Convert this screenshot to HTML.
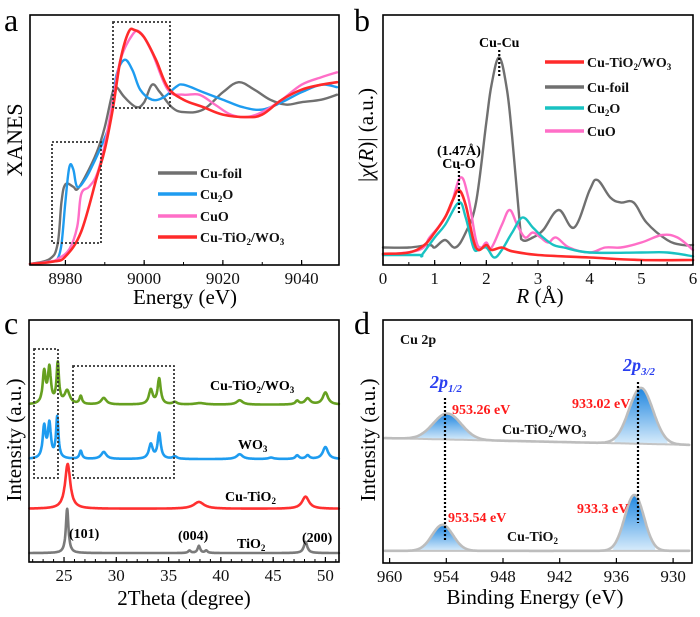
<!DOCTYPE html>
<html><head><meta charset="utf-8"><style>
html,body{margin:0;padding:0;background:#fff;}
svg{display:block;font-family:"Liberation Serif",serif;}
</style></head><body>
<svg id="fig" width="700" height="617" viewBox="0 0 700 617" xmlns="http://www.w3.org/2000/svg">
<defs>
<linearGradient id="blueg" x1="0" y1="0" x2="0" y2="1">
<stop offset="0" stop-color="#1f86e0"/><stop offset="1" stop-color="#d8ecfb"/>
</linearGradient>
</defs>
</svg>
<script>
// ---------- Panel a data (XANES) ----------
const aFoilX=[8971,8976,8978,8979,8980,8982,8983,8985,8988,8990,8992,8993,8995,8998,9000,9002,9004,9007,9010,9015,9020,9024,9028,9032,9036,9040,9045,9049];
const aFoilY=[0,0.02,0.08,0.25,0.32,0.31,0.30,0.35,0.45,0.55,0.69,0.71,0.67,0.63,0.65,0.72,0.69,0.63,0.61,0.62,0.69,0.73,0.70,0.66,0.64,0.65,0.66,0.68];
const aCu2OX=[8971,8977,8978,8979,8980,8981,8982,8983,8985,8987,8989,8991,8992,8993,8995,8997,8999,9002,9005,9008,9010,9015,9020,9025,9030,9035,9040,9045,9049];
const aCu2OY=[0,0.01,0.02,0.08,0.25,0.39,0.38,0.31,0.34,0.40,0.47,0.55,0.64,0.76,0.82,0.78,0.70,0.66,0.67,0.71,0.72,0.69,0.66,0.63,0.62,0.65,0.69,0.72,0.71];
const aCuOX=[8971,8976,8978,8981,8983,8984,8986,8988,8990,8992,8994,8997,8999,9002,9006,9010,9014,9018,9022,9026,9030,9035,9040,9045,9049];
const aCuOY=[0,0.01,0.02,0.06,0.15,0.28,0.31,0.36,0.48,0.65,0.82,0.92,0.93,0.85,0.70,0.68,0.68,0.64,0.60,0.59,0.61,0.66,0.72,0.75,0.77];
const aCatX=[8971,8977,8980,8984,8988,8990,8992,8994,8996,8997.5,9000,9003,9006,9010,9015,9020,9026,9030,9035,9040,9045,9049];
const aCatY=[0,0.01,0.03,0.13,0.35,0.46,0.62,0.82,0.93,0.94,0.91,0.82,0.71,0.66,0.63,0.60,0.59,0.60,0.66,0.70,0.72,0.73];
const aTicks=[8980,9000,9020,9040];

// ---------- Panel b data (EXAFS) ----------
const bFoilX=[0,0.5,0.9,1.0,1.2,1.4,1.6,1.8,2.0,2.1,2.25,2.4,2.5,2.65,2.7,2.9,3.1,3.4,3.7,4.0,4.15,4.4,4.6,4.85,5.1,5.5,5.8,6.0];
const bFoilY=[0.07,0.07,0.08,0.07,0.10,0.07,0.13,0.25,0.57,0.72,0.83,0.70,0.51,0.16,0.10,0.11,0.14,0.22,0.15,0.30,0.34,0.27,0.25,0.25,0.17,0.10,0.08,0.08];
const bCatX=[0,0.5,0.8,1.0,1.2,1.35,1.47,1.6,1.75,1.85,2.0,2.1,2.3,2.5,3.0,4.0,5.0,6.0];
const bCatY=[0.045,0.05,0.08,0.13,0.19,0.26,0.30,0.24,0.10,0.06,0.08,0.06,0.07,0.055,0.04,0.03,0.02,0.02];
const bCu2OX=[0,0.7,0.75,1.0,1.2,1.47,1.6,1.75,1.85,2.0,2.15,2.3,2.5,2.7,2.9,3.1,3.3,3.5,4.0,5.0,5.5,6.0];
const bCu2OY=[0.04,0.04,0.04,0.11,0.16,0.25,0.19,0.07,0.06,0.07,0.03,0.06,0.13,0.19,0.15,0.11,0.08,0.07,0.05,0.05,0.05,0.035];
const bCuOX=[0,0.7,0.9,1.1,1.3,1.5,1.65,1.8,1.9,2.0,2.1,2.3,2.45,2.6,2.75,2.9,3.05,3.2,3.35,3.6,4.0,4.3,4.6,5.0,5.4,5.7,6.0];
const bCuOY=[0.04,0.06,0.11,0.16,0.23,0.35,0.27,0.10,0.07,0.09,0.07,0.16,0.22,0.16,0.11,0.13,0.11,0.09,0.11,0.07,0.05,0.07,0.07,0.09,0.12,0.11,0.06];
const bTicks=[0,1,2,3,4,5,6];

// ---------- Panel c data (XRD): baseline, peak positions, heights, widths ----------
const cTiO2Base=3.7;
const cTiO2Pos=[25.3,37.0,37.9,38.6,48.1];
const cTiO2H=[18.3,1.0,2.9,1.0,4.6];
const cTiO2W=[0.15,0.15,0.15,0.15,0.2];
const cCuTiBase=22;
const cCuTiPos=[25.35,37.9,48.1];
const cCuTiH=[18.5,2.8,5];
const cCuTiW=[0.3,0.6,0.4];
const cWO3Base=42.5;
const cWO3Pos=[23.1,23.6,24.35,26.6,28.8,33.3,34.1,35.6,41.8,44.8,47.3,48.3,50.0];
const cWO3H=[13,14,17,3.3,2.9,6,10.5,1.0,2.0,0.6,1.5,1.5,5];
const cWO3W=[0.17,0.17,0.14,0.15,0.3,0.22,0.18,0.25,0.35,0.3,0.2,0.2,0.3];
const cCatBase=65;
const cCatPos=[23.1,23.6,24.4,25.3,26.6,28.8,33.3,34.1,35.6,38.0,41.8,47.3,48.3,50.0];
const cCatH=[13,14.5,16.5,5.5,3.3,2.7,6,10.5,1.0,0.6,1.8,1.5,2.5,5];
const cCatW=[0.17,0.17,0.14,0.3,0.15,0.3,0.22,0.18,0.25,0.6,0.35,0.2,0.3,0.3];
const cTicks=[25,30,35,40,45,50];

// ---------- Panel d data (XPS) ----------
const dTopBase=[51.4,48.6];
const dTopPos=[953.9,933.4];
const dTopH=[10.7,23];
const dTopFwhm=[3.5,3.0];
const dBotBase=[5,5];
const dBotPos=[954.4,934.1];
const dBotH=[10.7,23];
const dBotFwhm=[2.6,2.4];
const dTicks=[960,954,948,942,936,930];

const NS="http://www.w3.org/2000/svg";
const fig=document.getElementById('fig');
function mk(tag,attrs,parent){const e=document.createElementNS(NS,tag);for(const k in attrs)e.setAttribute(k,attrs[k]);(parent||fig).appendChild(e);return e;}
function txt(x,y,s,attrs,parent){const e=mk('text',Object.assign({x:x,y:y},attrs||{}),parent);e.innerHTML=s;return e;}
function lin(x0,x1,p0,p1){return v=>p0+(v-x0)/(x1-x0)*(p1-p0);}
function pathD(xs,ys,sx,sy){return xs.map((v,i)=>(i?'L':'M')+sx(v).toFixed(1)+' '+sy(ys[i]).toFixed(1)).join(' ');}
function smoothD(xs,ys,sx,sy){
  const P=xs.map((v,i)=>[sx(v),sy(ys[i])]);
  let d='M'+P[0][0].toFixed(1)+' '+P[0][1].toFixed(1);
  for(let i=0;i<P.length-1;i++){
    const p0=P[i-1]||P[i],p1=P[i],p2=P[i+1],p3=P[i+2]||p2;
    const t=0.18;
    const c1=[p1[0]+(p2[0]-p0[0])*t,p1[1]+(p2[1]-p0[1])*t];
    const c2=[p2[0]-(p3[0]-p1[0])*t,p2[1]-(p3[1]-p1[1])*t];
    d+=' C'+c1[0].toFixed(1)+' '+c1[1].toFixed(1)+' '+c2[0].toFixed(1)+' '+c2[1].toFixed(1)+' '+p2[0].toFixed(1)+' '+p2[1].toFixed(1);
  }
  return d;
}

function frame(L,T,R,B,name){
  const r=mk('rect',{x:L,y:T,width:R-L,height:B-T,fill:'none',stroke:'#000','stroke-width':1.6});
  
  
}
function xticks(vals,sx,B,minorStep,lo,hi,name){
  const g=mk('g',{});
  
  
  for(let v=lo;v<=hi+1e-9;v+=minorStep){mk('line',{x1:sx(v),x2:sx(v),y1:B,y2:B-3,stroke:'#000','stroke-width':1},g);}
  vals.forEach(v=>{mk('line',{x1:sx(v),x2:sx(v),y1:B,y2:B-5,stroke:'#000','stroke-width':1.2},g);
    const t=txt(sx(v),B+19,String(v),{'font-size':17,'text-anchor':'middle',fill:'#111'},g);
    
    });
}
function line(xs,ys,sx,sy,color,w,name,smooth){
  const p=mk('path',{d:smooth?smoothD(xs,ys,sx,sy):pathD(xs,ys,sx,sy),fill:'none',stroke:color,'stroke-width':w,'stroke-linejoin':'round','stroke-linecap':'round'});
  
  
  return p;
}
function dotbox(x,y,w,h,name){
  const r=mk('rect',{x:x,y:y,width:w,height:h,fill:'none',stroke:'#333','stroke-width':1.8,'stroke-dasharray':'2 2'});
  
  
}
function vdot(x,y0,y1,name){
  const l=mk('line',{x1:x,x2:x,y1:y0,y2:y1,stroke:'#000','stroke-width':2.2,'stroke-dasharray':'2 2'});
  
  
}
function label(x,y,s,attrs,name){
  const t=txt(x,y,s,attrs);
  
  
  return t;
}
function legend(x,y,color,s,name){
  const g=mk('g',{});
  
  
  mk('line',{x1:x,x2:x+39,y1:y,y2:y,stroke:color,'stroke-width':3.5},g);
  txt(x+42,y+5,s,{'font-size':14,'font-weight':'bold',fill:'#111'},g);
}

// ===== Panel a =====
(function(){
  const L=30,T=15,R=339,B=265;
  const sx=lin(8971,9049.5,L,R), sy=lin(0,1,B-1,B-250);
  line(aFoilX,aFoilY,sx,sy,'#707070',2.4,'cu-foil-xanes-line',true);
  line(aCu2OX,aCu2OY,sx,sy,'#1e9cf0',2.4,'cu2o-xanes-line',true);
  line(aCuOX,aCuOY,sx,sy,'#ff6ec7',2.4,'cuo-xanes-line',true);
  line(aCatX,aCatY,sx,sy,'#ff2a2a',2.6,'cu-tio2-wo3-xanes-line',true);
  dotbox(52,142,49,101,'pre-edge-highlight-box');
  dotbox(113,22,57,86,'white-line-highlight-box');
  frame(L,T,R,B,'panel-a');
  xticks(aTicks,sx,B,10,8980,9040,'panel-a');
  label(185,304,'Energy (eV)',{'font-size':21,'text-anchor':'middle'},'panel-a-x-title');
  label(0,0,'XANES',{'font-size':22,'text-anchor':'middle',transform:'translate(22,140) rotate(-90)'},'panel-a-y-title');
  label(4,31,'a',{'font-size':32},'panel-a-letter');
  legend(158,173,'#707070','Cu-foil','legend-cu-foil');
  legend(158,194,'#1e9cf0','Cu<tspan font-size="9" dy="3">2</tspan><tspan dy="-3">O</tspan>','legend-cu2o');
  legend(158,216,'#ff6ec7','CuO','legend-cuo');
  legend(158,237,'#ff2a2a','Cu-TiO<tspan font-size="9" dy="3">2</tspan><tspan dy="-3">/WO</tspan><tspan font-size="9" dy="3">3</tspan>','legend-cu-tio2-wo3');
})();

// ===== Panel b =====
(function(){
  const L=383,T=15,R=693,B=265;
  const sx=lin(0,6,L,R), sy=lin(0,1,B,B-250);
  line(bFoilX,bFoilY,sx,sy,'#707070',2.4,'cu-foil-ft-line',true);
  line(bCuOX,bCuOY,sx,sy,'#ff6ec7',2.4,'cuo-ft-line',true);
  line(bCu2OX,bCu2OY,sx,sy,'#19c2c2',2.4,'cu2o-ft-line',true);
  line(bCatX,bCatY,sx,sy,'#ff2a2a',2.6,'cu-tio2-wo3-ft-line',true);
  frame(L,T,R,B,'panel-b');
  xticks(bTicks,sx,B,0.5,0,6,'panel-b');
  vdot(sx(2.25),50,78,'cu-cu-marker');
  vdot(sx(1.47),167,215,'cu-o-marker');
  label(sx(2.25),47,'Cu-Cu',{'font-size':14,'font-weight':'bold','text-anchor':'middle'},'cu-cu-annotation');
  label(sx(1.47),155,'(1.47Å)',{'font-size':14,'font-weight':'bold','text-anchor':'middle'},'distance-annotation');
  label(sx(1.47),168,'Cu-O',{'font-size':14,'font-weight':'bold','text-anchor':'middle'},'cu-o-annotation');
  label(540,303,'<tspan font-style="italic">R</tspan> (Å)',{'font-size':21,'text-anchor':'middle'},'panel-b-x-title');
  label(0,0,'|<tspan font-style="italic">χ</tspan>(<tspan font-style="italic">R</tspan>)| (a.u.)',{'font-size':21,'text-anchor':'middle',transform:'translate(373,135) rotate(-90)'},'panel-b-y-title');
  label(354,31,'b',{'font-size':32},'panel-b-letter');
  legend(545,62,'#ff2a2a','Cu-TiO<tspan font-size="9" dy="3">2</tspan><tspan dy="-3">/WO</tspan><tspan font-size="9" dy="3">3</tspan>','legend-cu-tio2-wo3');
  legend(545,87,'#707070','Cu-foil','legend-cu-foil');
  legend(545,108,'#19c2c2','Cu<tspan font-size="9" dy="3">2</tspan><tspan dy="-3">O</tspan>','legend-cu2o');
  legend(545,131,'#ff6ec7','CuO','legend-cuo');
})();

// ===== Panel c =====
function lorentzSeries(base,pos,h,w,lo,hi,step){
  const xs=[],ys=[];
  for(let x=lo;x<=hi+1e-9;x+=step){let y=base;for(let i=0;i<pos.length;i++){const d=(x-pos[i])/w[i];y+=h[i]/(1+d*d);}xs.push(x);ys.push(y);}
  return [xs,ys];
}
(function(){
  const L=29,T=320,R=339,B=562;
  const sx=lin(21.65,51.3,L,R), sy=lin(0,100,B,B-242);
  let s;
  s=lorentzSeries(cTiO2Base,cTiO2Pos,cTiO2H,cTiO2W,21.7,51.3,0.03); line(s[0],s[1],sx,sy,'#7a7a7a',2.6,'tio2-xrd-line');
  s=lorentzSeries(cCuTiBase,cCuTiPos,cCuTiH,cCuTiW,21.7,51.3,0.03); line(s[0],s[1],sx,sy,'#ff3030',2.6,'cu-tio2-xrd-line');
  s=lorentzSeries(cWO3Base,cWO3Pos,cWO3H,cWO3W,21.7,51.3,0.03); line(s[0],s[1],sx,sy,'#1e9cf0',2.6,'wo3-xrd-line');
  s=lorentzSeries(cCatBase,cCatPos,cCatH,cCatW,21.7,51.3,0.03); line(s[0],s[1],sx,sy,'#66a020',2.6,'cu-tio2-wo3-xrd-line');
  dotbox(34,349,24,129,'wo3-region-box-1');
  dotbox(73,366,101,112,'wo3-region-box-2');
  frame(L,T,R,B,'panel-c');
  xticks(cTicks,sx,B,1,22,51,'panel-c');
  const b={'font-size':14,'font-weight':'bold'};
  label(210,390,'Cu-TiO<tspan font-size="9" dy="3">2</tspan><tspan dy="-3">/WO</tspan><tspan font-size="9" dy="3">3</tspan>',b,'cu-tio2-wo3-label');
  label(238,449,'WO<tspan font-size="9" dy="3">3</tspan>',b,'wo3-label');
  label(225,501,'Cu-TiO<tspan font-size="9" dy="3">2</tspan>',b,'cu-tio2-label');
  label(237,548,'TiO<tspan font-size="9" dy="3">2</tspan>',b,'tio2-label');
  label(69,538,'(101)',b,'peak-101-label');
  label(178,540,'(004)',b,'peak-004-label');
  label(302,542,'(200)',b,'peak-200-label');
  label(184,605,'2Theta (degree)',{'font-size':21,'text-anchor':'middle'},'panel-c-x-title');
  label(0,0,'Intensity (a.u.)',{'font-size':21,'text-anchor':'middle',transform:'translate(21,440) rotate(-90)'},'panel-c-y-title');
  label(4,334,'c',{'font-size':32},'panel-c-letter');
})();

// ===== Panel d =====
(function(){
  const L=383,T=320,R=692,B=563;
  const sx=lin(960.7,928,L,R), sy=lin(0,100,B,B-243);
  function draw(base,pos,h,fw,name){
    const xs=[],env=[],bs=[];
    for(let x=960.5;x>=928.2;x-=0.1){const bl=base[0]+(base[1]-base[0])*(960.5-x)/32.3;let y=bl;
      for(let i=0;i<pos.length;i++){const sg=fw[i]/2.355;y+=h[i]*Math.exp(-0.5*Math.pow((x-pos[i])/sg,2));}
      xs.push(x);env.push(y);bs.push(bl);}
    for(let i=0;i<pos.length;i++){
      const px=[],py=[],sg=fw[i]/2.355;
      for(let x=pos[i]+2.2*sg;x>=pos[i]-2.2*sg;x-=0.05){const bl=base[0]+(base[1]-base[0])*(960.5-x)/32.3;px.push(x);py.push(bl+h[i]*Math.exp(-0.5*Math.pow((x-pos[i])/sg,2)));}
      const bl0=base[0]+(base[1]-base[0])*(960.5-px[0])/32.3, bl1=base[0]+(base[1]-base[0])*(960.5-px[px.length-1])/32.3;
      const f=mk('path',{d:pathD(px,py,sx,sy)+' L'+sx(px[px.length-1])+' '+sy(bl1)+' L'+sx(px[0])+' '+sy(bl0)+' Z',fill:'url(#blueg)',stroke:'none'});
      
      
    }
    line(xs,bs,sx,sy,'#c4c4c4',2,name+'-background');
    line(xs,env,sx,sy,'#bdbdbd',2.6,name+'-spectrum');
  }
  draw(dTopBase,dTopPos,dTopH,dTopFwhm,'cu-tio2-wo3-xps');
  draw(dBotBase,dBotPos,dBotH,dBotFwhm,'cu-tio2-xps');
  vdot(445,398,540,'2p1-2-shift-line');
  vdot(638,382,523,'2p3-2-shift-line');
  frame(L,T,R,B,'panel-d');
  xticks(dTicks,sx,B,3,960,930,'panel-d');
  const red={'font-size':14,'font-weight':'bold',fill:'#ff1a1a'};
  const blk={'font-size':14,'font-weight':'bold',fill:'#111'};
  label(400,344,'Cu 2p',blk,'cu-2p-title');
  label(430,388,'<tspan font-style="italic">2p</tspan><tspan font-size="11" font-style="italic" dy="4">1/2</tspan>',{'font-size':18,'font-weight':'bold',fill:'#2a3ff0'},'2p1-2-label');
  label(623,371,'<tspan font-style="italic">2p</tspan><tspan font-size="11" font-style="italic" dy="4">3/2</tspan>',{'font-size':18,'font-weight':'bold',fill:'#2a3ff0'},'2p3-2-label');
  label(452,414,'953.26 eV',red,'peak-953-26-label');
  label(572,408,'933.02 eV',red,'peak-933-02-label');
  label(502,434,'Cu-TiO<tspan font-size="9" dy="3">2</tspan><tspan dy="-3">/WO</tspan><tspan font-size="9" dy="3">3</tspan>',blk,'cu-tio2-wo3-label');
  label(448,522,'953.54 eV',red,'peak-953-54-label');
  label(577,513,'933.3 eV',red,'peak-933-3-label');
  label(507,541,'Cu-TiO<tspan font-size="9" dy="3">2</tspan>',blk,'cu-tio2-label');
  label(535,604,'Binding Energy (eV)',{'font-size':21,'text-anchor':'middle'},'panel-d-x-title');
  label(0,0,'Intensity (a.u.)',{'font-size':21,'text-anchor':'middle',transform:'translate(375,440) rotate(-90)'},'panel-d-y-title');
  label(354,334,'d',{'font-size':32},'panel-d-letter');
})();
</script>
</body></html>
